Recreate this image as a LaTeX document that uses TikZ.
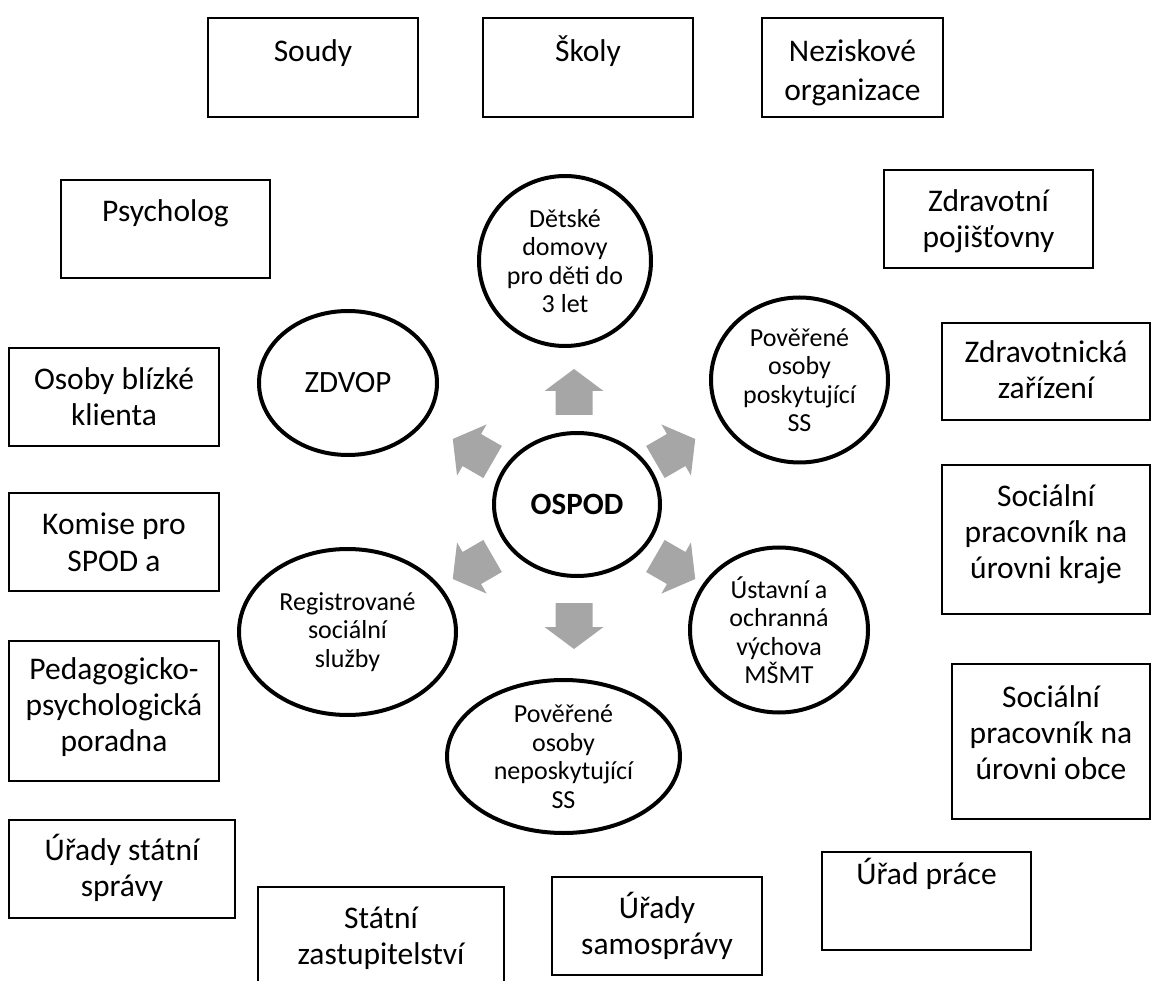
\documentclass[tikz,border=0pt]{standalone}
\usepackage{fontspec}
\setmainfont{Carlito}
\usetikzlibrary{shapes.geometric,calc}
\definecolor{arrowgrey}{RGB}{166,166,166}

\tikzset{
  orgbox/.style={draw=black, line width=1.6pt},
  boxtext/.style={anchor=base, align=flush center, inner sep=0pt, text width=240pt,
    font=\fontsize{31.5}{36}\selectfont},
  ring/.style={ellipse, draw=black, line width=4pt, inner sep=0pt, align=center,
    font=\fontsize{26}{28.5}\selectfont},
  bigring/.style={ring, font=\fontsize{31}{36}\selectfont},
  spoke/.style={fill=arrowgrey, draw=none},
}

\begin{document}
\begin{tikzpicture}[x=1pt, y=-1pt]
  \def\cx{574}
  \def\cy{509}
  \def\rr{118}

  % Fixed bounding box
  \path[use as bounding box] (0,0) rectangle (1152,981);

  % Grey block arrows round OSPOD
  \foreach \ang in {90,30,-30,-90,-150,150} {
    \begin{scope}[shift={(\cx,\cy)}, rotate=\ang, shift={(\rr,0)}]
      \fill[spoke] (-24,-18.5) -- (0,-18.5) -- (0,-29.5) -- (22,0)
        -- (0,29.5) -- (0,18.5) -- (-24,18.5) -- cycle;
    \end{scope}
  }

  % Ellipses
  \node[bigring, minimum width=166pt, minimum height=143pt] (ospod) at (577,504.5) {\textbf{OSPOD}};
  \node[ring, minimum width=172pt, minimum height=170pt] (detske) at (565,261) {Dětské\\domovy\\pro děti do\\3 let};
  \node[bigring, minimum width=178pt, minimum height=144pt] (zdvop) at (348,383) {ZDVOP};
  \node[ring, minimum width=177pt, minimum height=165pt] (povposk) at (799.5,380) {Pověřené\\osoby\\poskytující\\SS};
  \node[ring, minimum width=178pt, minimum height=165pt] (ustavni) at (779,630) {Ústavní a\\ochranná\\výchova\\MŠMT};
  \node[ring, minimum width=217pt, minimum height=166pt] (registr) at (347.5,632) {Registrované\\sociální\\služby};
  \node[ring, minimum width=233pt, minimum height=153pt] (povnepos) at (563.5,756.5) {Pověřené\\osoby\\neposkytující\\SS};

  % Outer boxes
  \foreach \nm/\xa/\ya/\xb/\yb/\bl/\txt in {
    soudy/208/18/418/117/62/{Soudy},
    skoly/483/18/693/117/62/{Školy},
    psycholog/61/180/270/278/222/{Psycholog},
    zdrpoj/884/170/1093/268/212/{Zdravotní\\pojišťovny},
    zdrzar/942/323/1150/420/363/{Zdravotnická\\zařízení},
    osoby/9/348/219/446/390/{Osoby blízké\\klienta},
    komise/9/493/219/591/535/{Komise pro\\SPOD a},
    spkraj/942/465/1150/614/507/{Sociální\\pracovník na\\úrovni kraje},
    pedag/9/641/219/781/679/{Pedagogicko-\\psychologická\\poradna},
    spobec/952/664/1150/819/707/{Sociální\\pracovník na\\úrovni obce},
    statspr/9/820/235/918/860/{Úřady státní\\správy},
    statzast/258/887/504/1000/928/{Státní\\zastupitelství},
    samospr/552/877/762/975/918/{Úřady\\samosprávy},
    uradprace/822/852/1031/950/884/{Úřad práce}} {
    \draw[orgbox] (\xa,\ya) rectangle (\xb,\yb);
    \node[boxtext] (\nm) at ({(\xa+\xb)/2},\bl) {\txt};
  }

  % Neziskove: text cut off at the bottom
  \draw[orgbox] (762,18) rectangle (943,117);
  \begin{scope}
    \clip (762,18) rectangle (943,106);
    \node[boxtext, font=\fontsize{31.5}{39}\selectfont] (nezisk) at (852.5,62) {Neziskové\\organizace};
  \end{scope}

\end{tikzpicture}
\end{document}
